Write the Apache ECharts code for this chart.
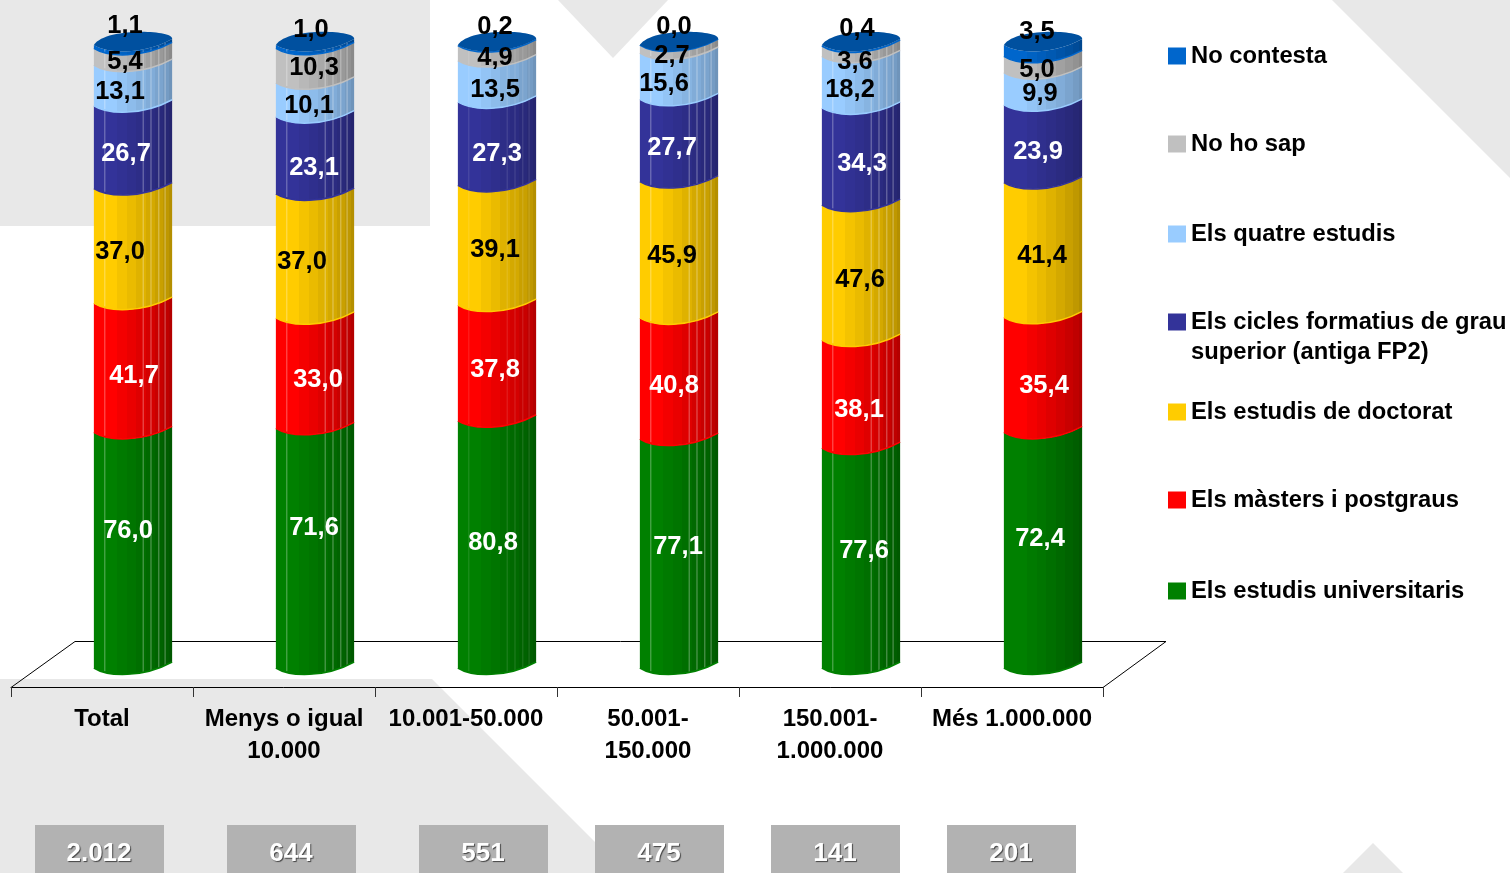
<!DOCTYPE html>
<html>
<head>
<meta charset="utf-8">
<title>Estudis</title>
<style>
html, body { margin: 0; padding: 0; background: #fff; }
#chart { width: 1510px; height: 873px; }
</style>
<script src="https://cdn.jsdelivr.net/npm/echarts@6/dist/echarts.min.js"></script>
</head>
<body>
<div id="chart"></div>
<script>
const categories = ["Total", "Menys o igual\n10.000", "10.001-50.000", "50.001-\n150.000", "150.001-\n1.000.000", "Més 1.000.000"];
const sampleSizes = ["2.012", "644", "551", "475", "141", "201"];

const universitaris = [76.0, 71.6, 80.8, 77.1, 77.6, 72.4];
const masters = [41.7, 33.0, 37.8, 40.8, 38.1, 35.4];
const doctorat = [37.0, 37.0, 39.1, 45.9, 47.6, 41.4];
const cicles = [26.7, 23.1, 27.3, 27.7, 34.3, 23.9];
const quatre = [13.1, 10.1, 13.5, 15.6, 18.2, 9.9];
const noHoSap = [5.4, 10.3, 4.9, 2.7, 3.6, 5.0];
const noContesta = [1.1, 1.0, 0.2, 0.0, 0.4, 3.5];

const stackNames = [
  "Els estudis universitaris",
  "Els màsters i postgraus",
  "Els estudis de doctorat",
  "Els cicles formatius de grau superior (antiga FP2)",
  "Els quatre estudis",
  "No ho sap",
  "No contesta",
];
const stackValues = [universitaris, masters, doctorat, cicles, quatre, noHoSap, noContesta];

// styles, bottom to top
const baseColors = ["#008000", "#FF0000", "#FFCC00", "#333399", "#99CCFF", "#C0C0C0", "#0066CC"];
const darkColors = ["#005800", "#B40000", "#B48F00", "#25256F", "#6F94BA", "#8A8A8A", "#00478F"];
const labelColors = ["#fff", "#fff", "#000", "#fff", "#000", "#000", "#000"];
const legendCenters = [590, 499, 411, 321, 233, 143, 55];

// hand placement of the value labels, [dx, dy] from the middle of each segment
const labelDx = [
  [-5, -1, -4, -1, 3, -3],
  [1, 3, -2, -5, -2, 1],
  [-13, -13, -2, -7, -1, -1],
  [-7, -1, 0, -7, 1, -5],
  [-13, -6, -2, -15, -11, -3],
  [-8, -1, -2, -7, -6, -6],
  [-8, -4, -2, -5, -4, -6],
];
const labelDy = [
  [-16, -17, 2, -4, -4, -8],
  [11, 10, 10, 10, 19, 14],
  [9, 9, 8, 9, 10, 9],
  [10, 16, 13, 10, 10, 11],
  [10, 9, 12, 11, 11, 8],
  [8, 5, 8, 10, 14, 8],
  [-18, -14, -15, -15, -14, -16],
];
const facetFractions = [0.14, 0.63, 0.73, 0.83, 0.91];
const facetOpacity = [0.38, 0.38, 0.14, 0.38, 0.38, 0];
const bandEdges = [0, 0.16, 0.3, 0.42, 0.54, 0.66, 0.78, 0.88, 0.96];
const capColor = "#00509F";

const sampleBoxLeft = [35, 227, 419, 595, 771, 947];
const FONT = '"Liberation Sans", Arial, sans-serif';

const columnTotals = categories.map((_, i) => stackValues.reduce((sum, s) => sum + s[i], 0));

function stackData(level) {
  return categories.map((_, i) => {
    let before = 0;
    for (let k = 0; k < level; k++) before += stackValues[k][i];
    const raw = stackValues[level][i];
    return [i, (before / columnTotals[i]) * 100, ((before + raw) / columnTotals[i]) * 100, raw];
  });
}

function bez(a, b, c, d, t) {
  const u = 1 - t;
  return u * u * u * a + 3 * u * u * t * b + 3 * u * t * t * c + t * t * t * d;
}

function mix(a, b, t) {
  const out = [1, 3, 5].map((p) => {
    const x = parseInt(a.slice(p, p + 2), 16);
    const y = parseInt(b.slice(p, p + 2), 16);
    return Math.round(x + (y - x) * t);
  });
  return "rgb(" + out.join(",") + ")";
}

// hard colour bands across the cylinder, like the facets of the old 3D chart
function bandStops(level) {
  const stops = [];
  bandEdges.forEach((edge, n) => {
    const next = n + 1 < bandEdges.length ? bandEdges[n + 1] : 1;
    const t = n < 2 ? 0 : (n - 1) / (bandEdges.length - 2);
    const color = mix(baseColors[level], darkColors[level], t);
    stops.push({ offset: edge, color }, { offset: next, color });
  });
  return stops;
}

function makeRenderItem(level) {
  const stops = bandStops(level);
  return function (params, api) {
    const i = api.value(0);
    const cx = api.coord([i, 0])[0];
    const yBottom = api.coord([i, api.value(1)])[1];
    const yTop = api.coord([i, api.value(2)])[1];
    const hw = api.size([1, 0])[0] * 0.215;

    const lowArc = (y) => `C${cx - 25} ${y + 12} ${cx + 10} ${y + 13} ${cx + hw} ${y - 3}`;
    const lowArcBack = (y) => `C${cx + 10} ${y + 13} ${cx - 25} ${y + 12} ${cx - hw} ${y + 3}`;

    const body = `M${cx - hw} ${yBottom + 3}${lowArc(yBottom)}L${cx + hw} ${yTop - 3}${lowArcBack(yTop)}Z`;
    const children = [
      {
        type: "path",
        shape: { pathData: body },
        style: { fill: { type: "linear", x: 0, y: 0, x2: 1, y2: 0, colorStops: stops } },
      },
    ];

    if (facetOpacity[i] > 0 && yBottom - yTop > 1) {
      let facets = "";
      facetFractions.forEach((f) => {
        const x = cx - hw + f * hw * 2;
        const dy = bez(3, 12, 13, -3, f);
        facets += `M${x} ${yBottom + dy}L${x} ${yTop + dy}`;
      });
      children.push({
        type: "path",
        shape: { pathData: facets },
        style: { fill: "none", stroke: "rgba(255,255,255," + facetOpacity[i] + ")", lineWidth: 1 },
      });
    }

    children.push({
      type: "path",
      shape: { pathData: `M${cx - hw} ${yBottom + 3}${lowArc(yBottom)}` },
      style: { fill: "none", stroke: baseColors[level], lineWidth: 1.5 },
    });

    if (level === stackValues.length - 1) {
      const cap = `M${cx - hw} ${yTop + 3}${lowArc(yTop)}C${cx + hw + 2} ${yTop - 12} ${cx - hw + 12} ${yTop - 15} ${cx - hw} ${yTop + 3}Z`;
      children.push({ type: "path", shape: { pathData: cap }, style: { fill: capColor } });
    }

    children.push({
      type: "text",
      z2: 100,
      x: cx + labelDx[level][i],
      y: (yBottom + yTop) / 2 + labelDy[level][i],
      style: {
        text: api.value(3).toFixed(1).replace(".", ","),
        fill: labelColors[level],
        font: "bold 25.5px " + FONT,
        align: "center",
        verticalAlign: "middle",
      },
    });

    return { type: "group", children };
  };
}

const series = stackNames.map((name, level) => ({
  name,
  type: "custom",
  xAxisIndex: 0,
  yAxisIndex: 0,
  silent: true,
  clip: false,
  animation: false,
  itemStyle: { color: baseColors[level] },
  encode: { x: 0, y: [1, 2] },
  data: stackData(level),
  renderItem: makeRenderItem(level),
}));

const legends = stackNames.map((name, level) => ({
  data: [name],
  left: 1168,
  top: legendCenters[level] - 11,
  padding: 0,
  orient: "vertical",
  itemWidth: 18,
  itemHeight: 17,
  icon: "rect",
  selectedMode: false,
  formatter: (n) => n.replace(" superior (antiga FP2)", ""),
  textStyle: { fontFamily: FONT, fontWeight: "bold", fontSize: 23.75, color: "#000", lineHeight: 24 },
}));

const backdrop = [
  [[0, 0], [430, 0], [430, 226], [0, 226]],
  [[558, 0], [668, 0], [613, 58]],
  [[1332, 0], [1510, 0], [1510, 178]],
  [[0, 679], [432, 679], [626, 873], [0, 873]],
  [[1343, 873], [1373, 843], [1403, 873]],
];

const graphics = backdrop.map((points) => ({
  type: "polygon",
  z: -10,
  silent: true,
  shape: { points },
  style: { fill: "#E8E8E8" },
}));

// floor of the 3D plot, the front edge is the category axis
graphics.push({
  type: "polyline",
  z: 0,
  silent: true,
  shape: { points: [[11, 687.5], [75, 641.5], [1166, 641.5], [1103, 687.5]] },
  style: { fill: "none", stroke: "#000", lineWidth: 1 },
});

sampleSizes.forEach((label, i) => {
  graphics.push({
    type: "rect",
    z: 1,
    silent: true,
    shape: { x: sampleBoxLeft[i], y: 825, width: 129, height: 48 },
    style: { fill: "#B2B2B2" },
  });
  graphics.push({
    type: "text",
    z: 2,
    silent: true,
    x: sampleBoxLeft[i] + 64,
    y: 854,
    style: {
      text: label,
      fill: "#fff",
      font: "bold 26px " + FONT,
      align: "center",
      verticalAlign: "middle",
      textShadowColor: "#444",
      textShadowBlur: 1,
      textShadowOffsetX: 1,
      textShadowOffsetY: 1,
    },
  });
});

graphics.push({
  type: "text",
  silent: true,
  x: 1191,
  y: 352,
  style: {
    text: "superior (antiga FP2)",
    fill: "#000",
    font: "bold 23.75px " + FONT,
    align: "left",
    verticalAlign: "middle",
  },
});

const chart = echarts.init(document.getElementById("chart"), null, { renderer: "canvas" });
chart.setOption({
  backgroundColor: "#fff",
  animation: false,
  grid: [
    { left: 42, top: 42, width: 1092, height: 623 },
    { left: 11, top: 42, width: 1092, height: 645 },
  ],
  xAxis: [
    { type: "category", gridIndex: 0, data: categories, show: false },
    {
      type: "category",
      gridIndex: 1,
      data: categories,
      axisLine: { show: true, lineStyle: { color: "#000", width: 1 } },
      axisTick: { show: true, length: 10, lineStyle: { color: "#333" }, alignWithLabel: false },
      axisLabel: {
        interval: 0,
        margin: 16,
        fontFamily: FONT,
        fontWeight: "bold",
        fontSize: 24,
        lineHeight: 32,
        color: "#000",
      },
    },
  ],
  yAxis: [
    { type: "value", gridIndex: 0, min: 0, max: 100, show: false },
    { type: "value", gridIndex: 1, min: 0, max: 100, show: false },
  ],
  legend: legends,
  graphic: graphics,
  series,
});
</script>
</body>
</html>
